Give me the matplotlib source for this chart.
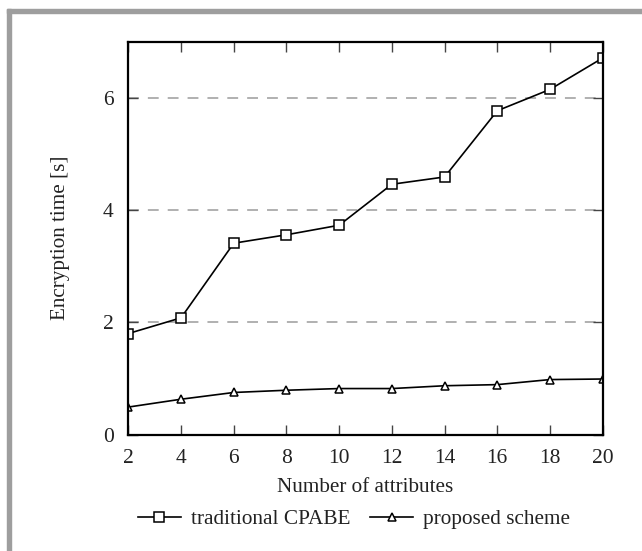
import matplotlib
matplotlib.use('Agg')
import matplotlib.pyplot as plt
from matplotlib.patches import Rectangle

attrs = [2, 4, 6, 8, 10, 12, 14, 16, 18, 20]
traditional = [1.80, 2.08, 3.41, 3.56, 3.73, 4.46, 4.59, 5.77, 6.15, 6.71]
proposed = [0.49, 0.63, 0.75, 0.79, 0.82, 0.82, 0.87, 0.89, 0.98, 0.99]
yticks = [0, 2, 4, 6]

plt.rcParams['font.family'] = ['Liberation Serif', 'DejaVu Serif']

fig = plt.figure(figsize=(6.42, 5.51), dpi=100)
ax = fig.add_axes([0.1999, 0.2113, 0.7389, 0.7130])

ax.plot(attrs, traditional, color='black', lw=1.2, marker='s', ms=7.5,
        mfc='white', mec='black', mew=1.1, label='traditional CPABE')
ax.plot(attrs, proposed, color='black', lw=1.2, marker='^', ms=5.5,
        mfc='white', mec='black', mew=1.1, label='proposed scheme')

ax.set_xlim(2, 20)
ax.set_ylim(0, 7)
ax.set_xticks(attrs)
ax.set_yticks(yticks)
for y in yticks[1:]:
    ax.axhline(y, color='#aaaaaa', lw=1.3, ls=(0, (6, 5)), zorder=0)

ax.tick_params(direction='in', length=7, width=1, color='#444444',
               top=True, right=True, labelsize=15.5, pad=10.5, labelcolor='#222222')
for s in ax.spines.values():
    s.set_linewidth(1.6)
    s.set_color('black')

ax.set_xlabel('Number of attributes', fontsize=15.2, color='#222222', labelpad=7)
ax.set_ylabel('Encryption time [s]', fontsize=15.2, color='#222222', labelpad=24)

fig.legend(loc='center', bbox_to_anchor=(354 / 642, 1 - 519 / 551), ncol=2,
           frameon=False, fontsize=15.3, handlelength=2.0, columnspacing=0.95,
           handletextpad=0.47, labelcolor='#222222')

# gray frame on left and top edges
fig.patches.append(Rectangle((7 / 642, 0), 3.5 / 642, 1 - 9 / 551,
                             transform=fig.transFigure, color='#9e9e9e'))
fig.patches.append(Rectangle((7 / 642, 1 - 13 / 551), 1, 4 / 551,
                             transform=fig.transFigure, color='#9e9e9e'))

fig.savefig('out.png', dpi=100)
